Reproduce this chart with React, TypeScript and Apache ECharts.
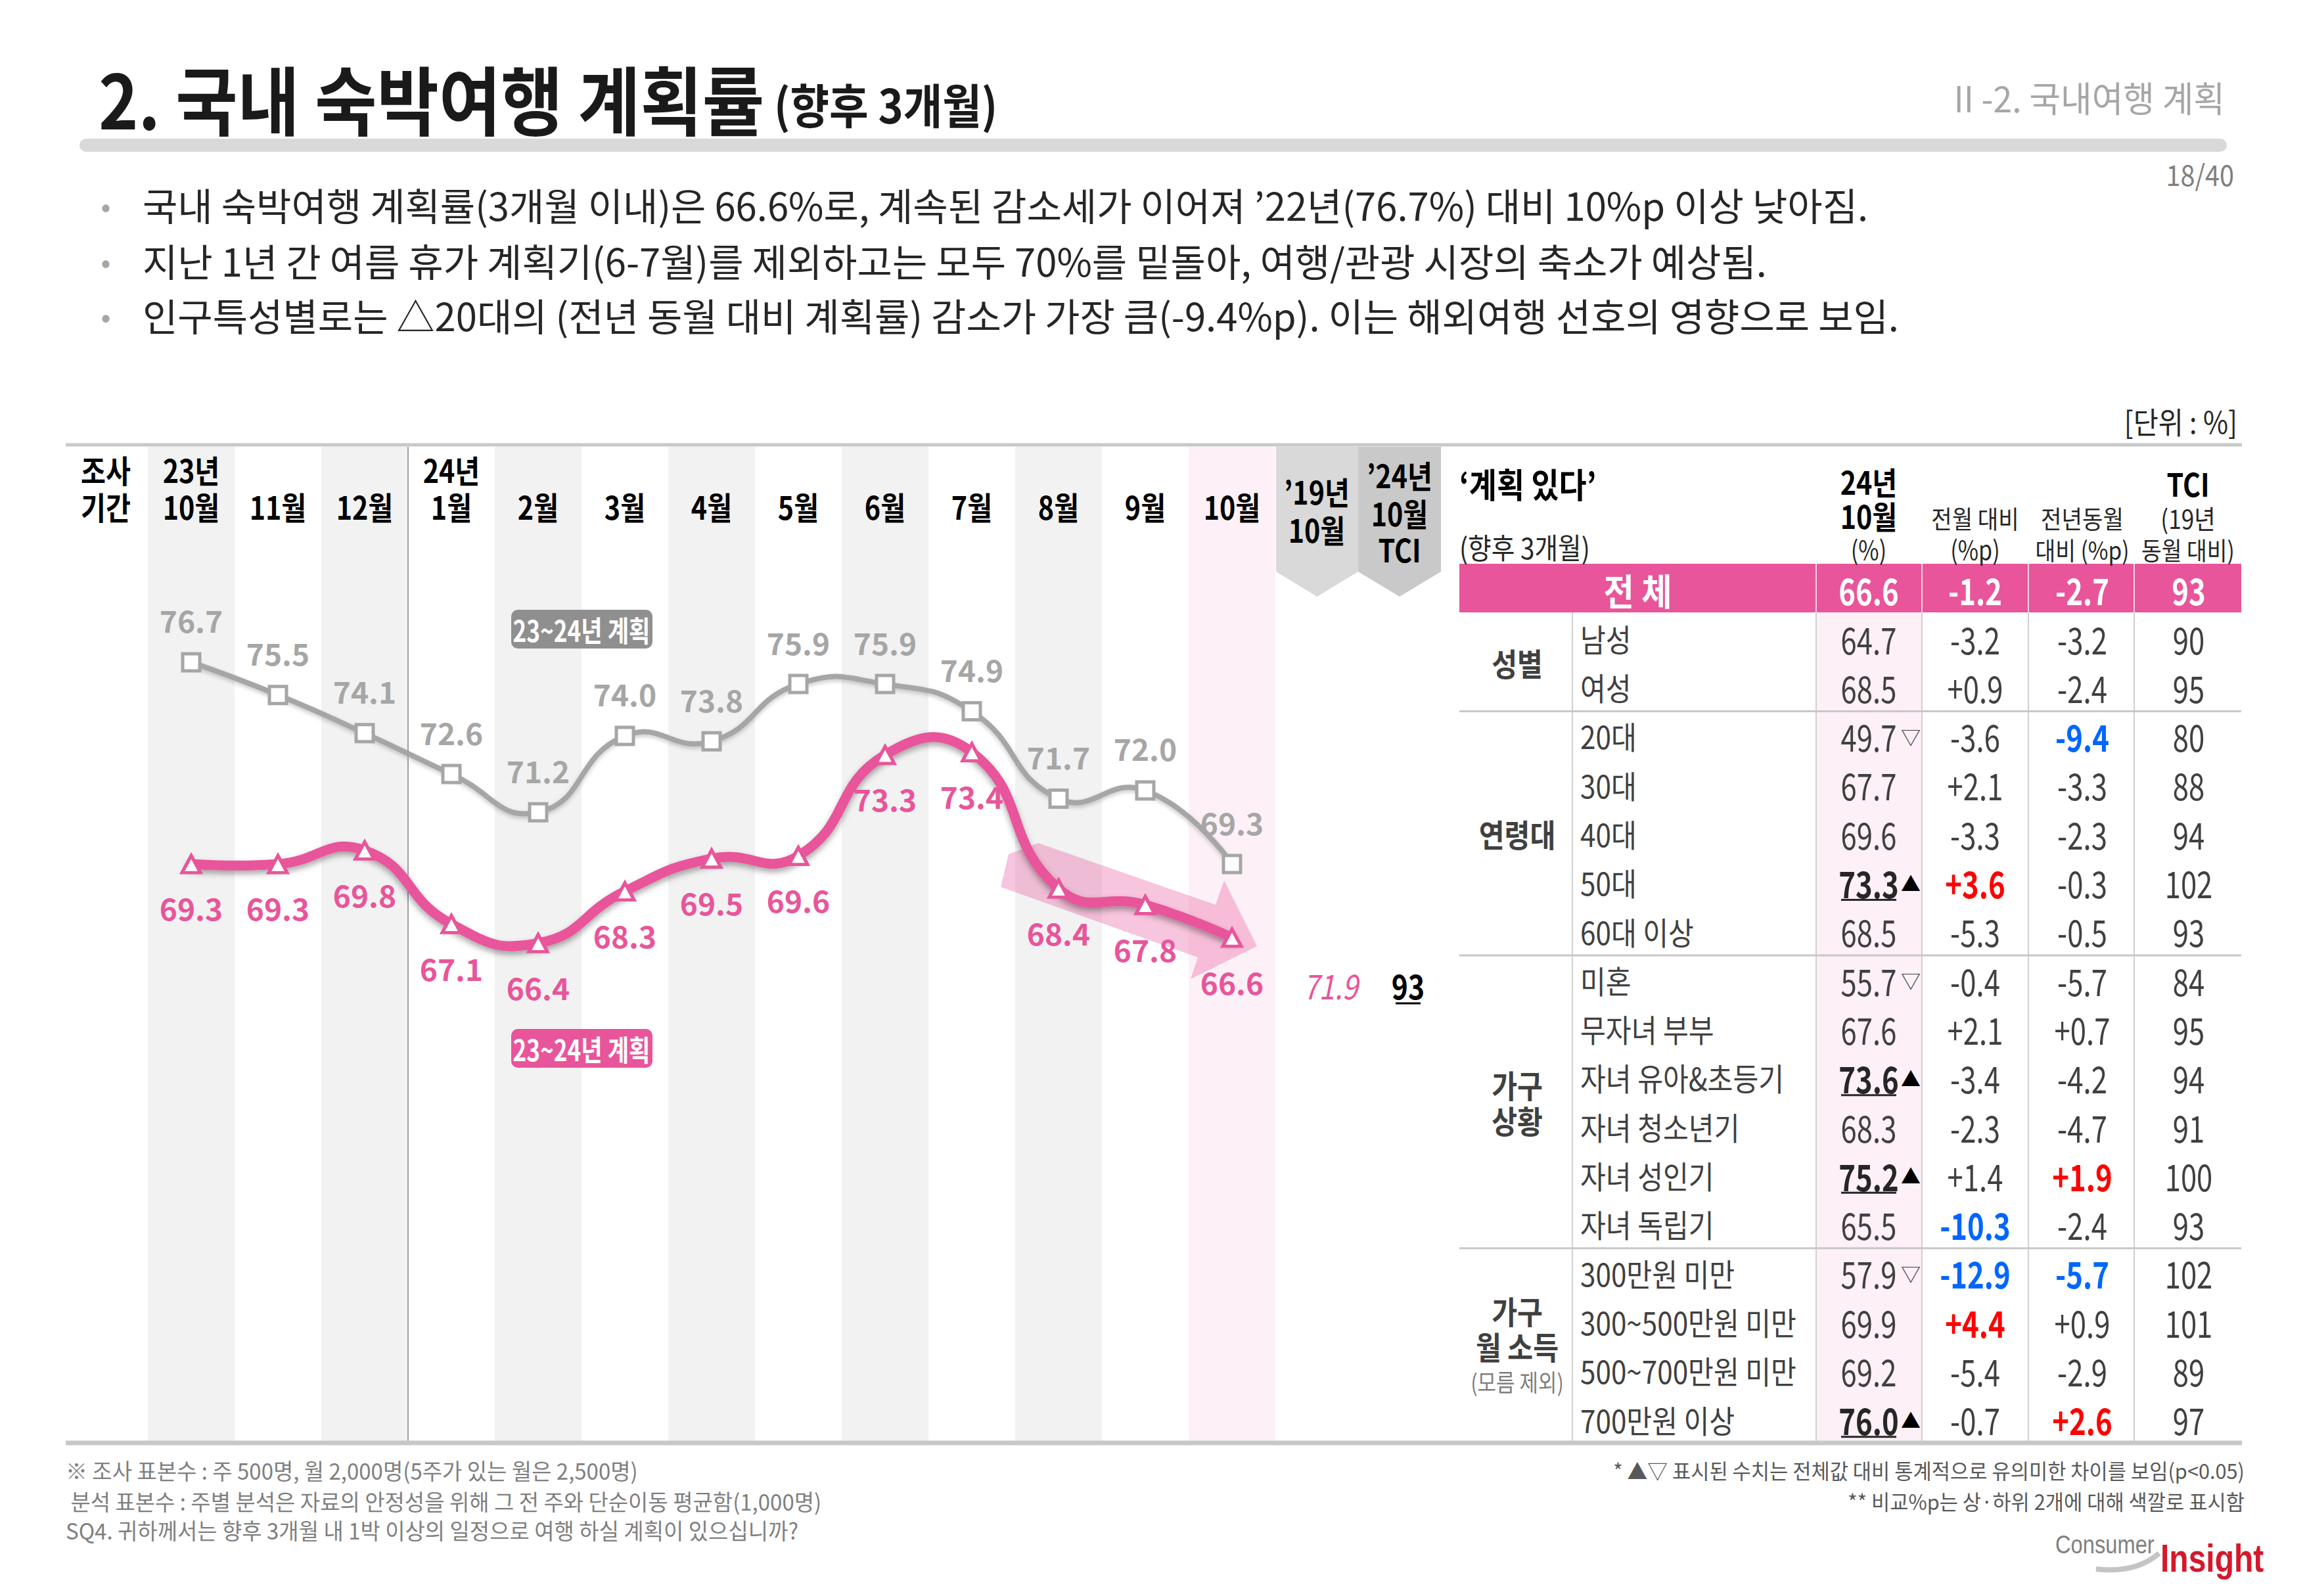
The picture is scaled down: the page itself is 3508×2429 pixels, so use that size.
import React, { useEffect, useRef } from 'react';
import * as echarts from 'echarts';

// ---------- data ----------
const months = ['10월', '11월', '12월', '1월', '2월', '3월', '4월', '5월', '6월', '7월', '8월', '9월', '10월'];
const yearMarks = ['23년', '', '', '24년', '', '', '', '', '', '', '', '', ''];
const prevPlan = [76.7, 75.5, 74.1, 72.6, 71.2, 74.0, 73.8, 75.9, 75.9, 74.9, 71.7, 72.0, 69.3];
const curPlan = [69.3, 69.3, 69.8, 67.1, 66.4, 68.3, 69.5, 69.6, 73.3, 73.4, 68.4, 67.8, 66.6];
const oct2019 = 71.9;
const tciOct = 93;
const prevTag = '23~24년 계획';
const curTag = '23~24년 계획';

const bullets = [
  '국내 숙박여행 계획률(3개월 이내)은 66.6%로, 계속된 감소세가 이어져 ’22년(76.7%) 대비 10%p 이상 낮아짐.',
  '지난 1년 간 여름 휴가 계획기(6-7월)를 제외하고는 모두 70%를 밑돌아, 여행/관광 시장의 축소가 예상됨.',
  '인구특성별로는 △20대의 (전년 동월 대비 계획률) 감소가 가장 큼(-9.4%p). 이는 해외여행 선호의 영향으로 보임.',
];

const totalRow = ['전 체', '66.6', '-1.2', '-2.7', '93'];
const groupLabels = [['성별'], ['연령대'], ['가구', '상황'], ['가구', '월 소득']];
const groupSizes = [2, 5, 6, 4];
const rowLabels = ['남성', '여성', '20대', '30대', '40대', '50대', '60대 이상', '미혼', '무자녀 부부', '자녀 유아&초등기', '자녀 청소년기', '자녀 성인기', '자녀 독립기', '300만원 미만', '300~500만원 미만', '500~700만원 미만', '700만원 이상'];
const octValues = [64.7, 68.5, 49.7, 67.7, 69.6, 73.3, 68.5, 55.7, 67.6, 73.6, 68.3, 75.2, 65.5, 57.9, 69.9, 69.2, 76.0];
const sigMarks = ['', '', '▽', '', '', '▲', '', '▽', '', '▲', '', '▲', '', '▽', '', '', '▲'];
const momDiff = ['-3.2', '+0.9', '-3.6', '+2.1', '-3.3', '+3.6', '-5.3', '-0.4', '+2.1', '-3.4', '-2.3', '+1.4', '-10.3', '-12.9', '+4.4', '-5.4', '-0.7'];
const momHl = ['', '', '', '', '', 'r', '', '', '', '', '', '', 'b', 'b', 'r', '', ''];
const yoyDiff = ['-3.2', '-2.4', '-9.4', '-3.3', '-2.3', '-0.3', '-0.5', '-5.7', '+0.7', '-4.2', '-4.7', '+1.9', '-2.4', '-5.7', '+0.9', '-2.9', '+2.6'];
const yoyHl = ['', '', 'b', '', '', '', '', '', '', '', '', 'r', '', 'b', '', '', 'r'];
const tciValues = [90, 95, 80, 88, 94, 102, 93, 84, 95, 94, 91, 100, 93, 102, 101, 89, 97];

const footLeft = [
  '※ 조사 표본수 : 주 500명, 월 2,000명(5주가 있는 월은 2,500명)',
  ' 분석 표본수 : 주별 분석은 자료의 안정성을 위해 그 전 주와 단순이동 평균함(1,000명)',
  'SQ4. 귀하께서는 향후 3개월 내 1박 이상의 일정으로 여행 하실 계획이 있으십니까?',
];
const footRight = [
  '* ▲▽ 표시된 수치는 전체값 대비 통계적으로 유의미한 차이를 보임(p<0.05)',
  '** 비교%p는 상·하위 2개에 대해 색깔로 표시함',
];

// ---------- style / layout ----------
const W = 3508;
const H = 2429;
const FONT = "'Noto Sans CJK KR','Noto Sans',sans-serif";
const LFONT = "'Liberation Sans',Arial,sans-serif";
const PINK = '#e8559a';
const GRAY = '#a6a6a6';
const GL = 225;
const BAND = 132;
const GT = 680;
const GB = 2195;
const YMIN = 48.1;
const YMAX = 84.6;
const cx = (k: number) => GL + BAND * (k + 0.5);

const T = (x: number, y: number, text: string, o: any = {}) => ({
  type: 'text',
  x,
  y,
  z: o.z ?? 20,
  scaleX: o.sx ?? 1,
  silent: true,
  style: {
    text,
    fill: o.color ?? '#262626',
    fontSize: o.size ?? 44,
    fontWeight: o.weight ?? 'normal',
    fontStyle: o.italic ? 'italic' : 'normal',
    fontFamily: o.family ?? FONT,
    textAlign: o.align ?? 'left',
    textVerticalAlign: 'middle',
  },
});
const L = (x1: number, y1: number, x2: number, y2: number, stroke: string, lw: number, z = 15) => ({
  type: 'line',
  z,
  silent: true,
  shape: { x1, y1, x2, y2 },
  style: { stroke, lineWidth: lw },
});
const R = (x: number, y: number, w: number, h: number, fill: string, r = 0, z = 5) => ({
  type: 'rect',
  z,
  silent: true,
  shape: { x, y, width: w, height: h, r },
  style: { fill },
});

function buildGraphic() {
  const g: any[] = [];
  const HB = { size: 48, weight: 'bold', align: 'center', color: '#000', sx: 0.86 };
  // title
  g.push(T(150, 147, '2. 국내 숙박여행 계획률', { size: 114, weight: 'bold', sx: 0.9, color: '#1a1a1a' }));
  g.push(T(1178, 157, '(향후 3개월)', { size: 72, weight: 'bold', sx: 0.9, color: '#1a1a1a' }));
  g.push(T(3386, 148, 'II -2. 국내여행 계획', { size: 54, align: 'right', color: GRAY, sx: 0.96 }));
  g.push(R(121, 211, 3268, 20, '#d9d9d9', 10));
  g.push(T(3400, 264, '18/40', { size: 44, align: 'right', color: '#7f7f7f', sx: 0.9 }));
  // bullets
  const by = [311, 396, 479];
  bullets.forEach((b, i) => {
    g.push(T(161, by[i], '•', { size: 44, color: GRAY, align: 'center' }));
    g.push(T(217, by[i], b, { size: 58, color: '#262626', sx: 1.0 }));
  });
  g.push(T(3405, 640, '[단위 : %]', { size: 46, align: 'right', color: '#262626', sx: 0.9 }));

  // frame lines
  g.push(L(100, 677, 3412, 677, '#c8c8c8', 5, 30));
  g.push(L(100, 2196, 3412, 2196, '#c8c8c8', 7, 30));
  // separator between years
  g.push(L(GL + BAND * 3, GT, GL + BAND * 3, GB, '#a0a0a0', 2, 3));

  // chart header
  g.push(T(161, 714, '조사', HB));
  g.push(T(161, 770, '기간', HB));
  months.forEach((m, k) => {
    if (yearMarks[k]) g.push(T(cx(k), 714, yearMarks[k], HB));
    g.push(T(cx(k), 770, m, HB));
  });
  // extra header chevrons
  const b1 = [1942, 2067];
  const b2 = [2067, 2193];
  g.push({ type: 'polygon', z: 5, silent: true, shape: { points: [[b1[0], 680], [b1[1], 680], [b1[1], 870], [(b1[0] + b1[1]) / 2, 908], [b1[0], 870]] }, style: { fill: '#d9d9d9' } });
  g.push({ type: 'polygon', z: 5, silent: true, shape: { points: [[b2[0], 680], [b2[1], 680], [b2[1], 870], [(b2[0] + b2[1]) / 2, 908], [b2[0], 870]] }, style: { fill: '#c9c9c9' } });
  g.push(T(2004, 747, '’19년', HB));
  g.push(T(2004, 805, '10월', HB));
  g.push(T(2130, 722, '’24년', HB));
  g.push(T(2130, 780, '10월', HB));
  g.push(T(2130, 835, 'TCI', HB));
  g.push(T(2025, 1499, oct2019.toFixed(1), { size: 52, italic: true, align: 'center', color: PINK, sx: 0.82 }));
  g.push(T(2143, 1499, String(tciOct), { size: 52, weight: 'bold', align: 'center', color: '#000', sx: 0.82 }));
  g.push(L(2124, 1527, 2162, 1527, '#000', 3));

  // trend arrow
  g.push({
    type: 'polygon', z: 1, silent: true,
    shape: { points: [[1580, 1283], [1850, 1377], [1863, 1340], [1913, 1440], [1812, 1490], [1823, 1457], [1523, 1350], [1535, 1300]] },
    style: { fill: 'rgba(232,85,154,0.34)' },
  });
  // series tags
  g.push(R(778, 928, 215, 59, '#8f8f8f', 10, 12));
  g.push(T(885, 958, prevTag, { size: 44, weight: 'bold', align: 'center', color: '#fff', sx: 0.8 }));
  g.push(R(778, 1566, 215, 59, PINK, 10, 12));
  g.push(T(885, 1596, curTag, { size: 44, weight: 'bold', align: 'center', color: '#fff', sx: 0.8 }));

  // ---------- table ----------
  const TL = 2221;
  const TR = 3411;
  const cols = [2393, 2764, 2925, 3087, 3248];
  const ROW0 = 971;
  const RH = 74.3;
  const c3 = 2844;
  const c4 = 3006;
  const c5 = 3169;
  const c6 = 3331;
  const NUM = 0.78;
  g.push(T(TL, 735, '‘계획 있다’', { size: 52, weight: 'bold', color: '#000', sx: 0.88 }));
  g.push(T(TL, 832, '(향후 3개월)', { size: 44, color: '#262626', sx: 0.88 }));
  g.push(T(c3, 732, '24년', HB));
  g.push(T(c3, 784, '10월', HB));
  g.push(T(c3, 835, '(%)', { size: 40, align: 'center', sx: 0.85 }));
  g.push(T(c4, 787, '전월 대비', { size: 38, align: 'center', sx: 0.9 }));
  g.push(T(c4, 835, '(%p)', { size: 40, align: 'center', sx: 0.85 }));
  g.push(T(c5, 787, '전년동월', { size: 38, align: 'center', sx: 0.9 }));
  g.push(T(c5, 835, '대비 (%p)', { size: 38, align: 'center', sx: 0.88 }));
  g.push(T(3330, 735, 'TCI', HB));
  g.push(T(3330, 787, '(19년', { size: 40, align: 'center', sx: 0.88 }));
  g.push(T(3330, 835, '동월 대비)', { size: 38, align: 'center', sx: 0.88 }));

  g.push(R(TL, 858, TR - TL, 74, PINK, 0, 6));
  cols.slice(1).forEach((x) => g.push(L(x, 858, x, 932, 'rgba(255,255,255,0.75)', 2, 7)));
  const totX = [(TL + cols[1]) / 2, c3, c4, c5, c6];
  totalRow.forEach((t, i) => g.push(T(totX[i], 896, t, { size: 56, weight: 'bold', align: 'center', color: '#fff', sx: i === 0 ? 0.9 : NUM })));

  g.push(R(cols[1], 932, cols[2] - cols[1], GB - 932, '#fdf0f6', 0, 4));
  cols.forEach((x) => g.push(L(x, 932, x, GB, '#d0d0d0', 2, 8)));

  let cum = 0;
  groupSizes.forEach((n, gi) => {
    const yc = ROW0 + RH * (cum + (n - 1) / 2);
    const lines = groupLabels[gi];
    const extra = gi === 3 ? 1 : 0;
    const total = lines.length + extra;
    const sp = 54;
    lines.forEach((ln, li) => {
      g.push(T(2309, yc + (li - (total - 1) / 2) * sp, ln, { size: 48, weight: 'bold', align: 'center', color: '#404040', sx: 0.88 }));
    });
    if (gi === 3) g.push(T(2309, yc + ((total - 1) / 2) * sp, '(모름 제외)', { size: 36, align: 'center', color: '#7f7f7f', sx: 0.86 }));
    cum += n;
    if (gi < groupSizes.length - 1) {
      const ys = ROW0 - RH / 2 + RH * cum;
      g.push(L(TL, ys, TR, ys, '#c8c8c8', 3, 9));
    }
  });

  const hlColor = (h: string) => (h === 'r' ? '#ff0000' : h === 'b' ? '#0066ff' : '#404040');
  rowLabels.forEach((lab, i) => {
    const y = ROW0 + RH * i;
    g.push(T(2405, y, lab, { size: 48, color: '#404040', sx: 0.88 }));
    const up = sigMarks[i] === '▲';
    g.push(T(c3, y, octValues[i].toFixed(1), { size: 56, align: 'center', color: up ? '#262626' : '#404040', weight: up ? 'bold' : 'normal', sx: NUM }));
    if (up) g.push(L(c3 - 42, y + 27, c3 + 42, y + 27, '#262626', 3, 21));
    if (sigMarks[i]) g.push(T(2893, y, sigMarks[i], { size: 30, color: up ? '#000' : '#404040' }));
    g.push(T(c4, y, momDiff[i], { size: 56, align: 'center', color: hlColor(momHl[i]), weight: momHl[i] ? 'bold' : 'normal', sx: NUM }));
    g.push(T(c5, y, yoyDiff[i], { size: 56, align: 'center', color: hlColor(yoyHl[i]), weight: yoyHl[i] ? 'bold' : 'normal', sx: NUM }));
    g.push(T(c6, y, String(tciValues[i]), { size: 56, align: 'center', color: '#404040', sx: NUM }));
  });

  // footer
  const fy = [2237, 2284, 2328];
  footLeft.forEach((t, i) => g.push(T(100, fy[i], t, { size: 34, color: '#7f7f7f', sx: 0.97 })));
  footRight.forEach((t, i) => g.push(T(3416, fy[i], t, { size: 32, color: '#595959', align: 'right', sx: 0.96 })));

  // logo
  g.push({ type: 'bezierCurve', z: 20, silent: true, shape: { x1: 3190, y1: 2388, cpx1: 3250, cpy1: 2395, x2: 3286, y2: 2364 }, style: { stroke: '#c4c4c4', lineWidth: 8, fill: 'none' } });
  g.push(T(3128, 2351, 'Consumer', { size: 38, color: '#808080', family: LFONT, sx: 0.86 }));
  g.push(T(3288, 2372, 'Insight', { size: 60, weight: 'bold', color: '#d4192c', family: LFONT, sx: 0.8 }));
  return g;
}

function curveSeries(values: number[], color: string, width: number, shadow: string, blur: number, off: number, z: number) {
  return {
    type: 'custom',
    coordinateSystem: 'cartesian2d',
    data: values.map((v, i) => [i, v]),
    encode: { x: 0, y: 1 },
    z,
    silent: true,
    renderItem: (params: any, api: any) => {
      if (params.dataIndex !== 0) return null;
      const pts = values.map((v, i) => api.coord([i, v]));
      return {
        type: 'polyline',
        shape: { points: pts, smooth: 0.5 },
        style: { stroke: color, lineWidth: width, fill: 'none', lineJoin: 'round', lineCap: 'round', shadowColor: shadow, shadowBlur: blur, shadowOffsetY: off },
      };
    },
  };
}

function buildOption() {
  const bandColors = months.map((_, i) => (i === months.length - 1 ? '#fdf1f7' : i % 2 === 0 ? '#f2f2f2' : '#ffffff'));
  const labelBase = { show: true, fontSize: 46, fontWeight: 'bold', fontFamily: FONT, formatter: (p: any) => Number(p.value).toFixed(1) };
  return {
    animation: false,
    backgroundColor: '#ffffff',
    grid: { left: GL, top: GT, width: BAND * months.length, height: GB - GT, containLabel: false },
    xAxis: {
      type: 'category',
      data: months,
      boundaryGap: true,
      axisLine: { show: false },
      axisTick: { show: false },
      axisLabel: { show: false, interval: 0 },
      splitLine: { show: false },
      splitArea: { show: true, interval: 0, areaStyle: { color: bandColors } },
    },
    yAxis: {
      type: 'value',
      min: YMIN,
      max: YMAX,
      show: false,
      splitLine: { show: false },
    },
    series: [
      curveSeries(prevPlan, GRAY, 8, 'rgba(0,0,0,0.22)', 6, 3, 2),
      {
        type: 'line',
        name: prevTag,
        data: prevPlan,
        symbol: 'rect',
        symbolSize: 26,
        z: 3,
        lineStyle: { opacity: 0 },
        itemStyle: { color: '#ffffff', borderColor: GRAY, borderWidth: 5 },
        label: { ...labelBase, position: 'top', distance: 26, color: GRAY },
        emphasis: { disabled: true },
      },
      curveSeries(curPlan, PINK, 15, 'rgba(0,0,0,0.35)', 10, 5, 4),
      {
        type: 'line',
        name: curTag,
        data: curPlan,
        symbol: 'triangle',
        symbolSize: [28, 26],
        z: 5,
        lineStyle: { opacity: 0 },
        itemStyle: { color: '#ffffff', borderColor: PINK, borderWidth: 5 },
        label: { ...labelBase, position: 'bottom', distance: 28, color: PINK },
        emphasis: { disabled: true },
      },
    ],
    graphic: { elements: buildGraphic() },
  };
}

export default function App() {
  const ref = useRef<HTMLDivElement>(null);
  useEffect(() => {
    const chart = echarts.init(ref.current as HTMLDivElement, null, { renderer: 'svg', width: W, height: H });
    chart.setOption(buildOption() as any);
    return () => chart.dispose();
  }, []);
  return <div ref={ref} style={{ position: 'absolute', left: 0, top: 0, width: W, height: H, background: '#fff' }} />;
}
